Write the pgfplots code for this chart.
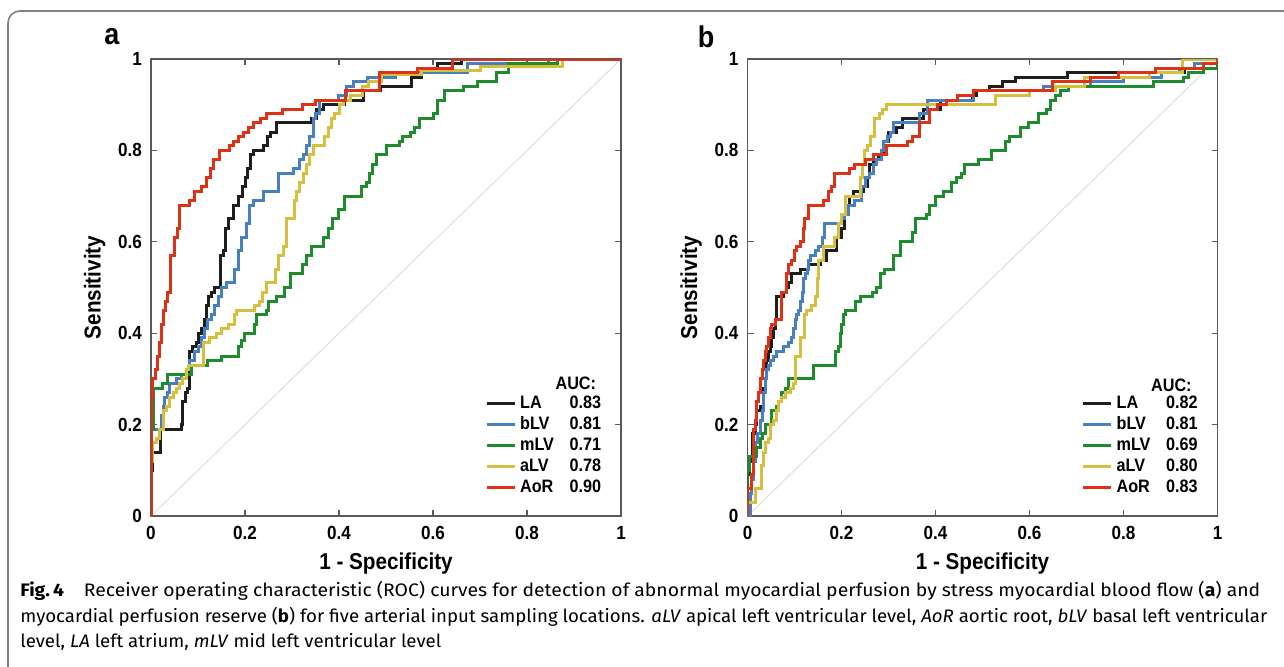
\documentclass[border=0pt]{standalone}
\usepackage{pgfplots}
\pgfplotsset{compat=1.18}
\usepackage{graphicx}
\usepackage{fontspec}
\newfontfamily\chartfont{Liberation Sans}[FakeStretch=0.9]
\newfontfamily\capfont{Fira Sans}[FakeStretch=1.07]

\definecolor{cLA}{RGB}{30,30,30}
\definecolor{cbLV}{RGB}{70,128,192}
\definecolor{cmLV}{RGB}{30,140,45}
\definecolor{caLV}{RGB}{214,190,62}
\definecolor{cAoR}{RGB}{222,50,22}

\pgfplotsset{
    roc/.style={
        scale only axis,
        width=235pt, height=228.5pt,
        xmin=0, xmax=1, ymin=0, ymax=1,
        xtick={0,0.2,0.4,0.6,0.8,1}, ytick={0,0.2,0.4,0.6,0.8,1},
        xticklabels={0,0.2,0.4,0.6,0.8,1}, yticklabels={0,0.2,0.4,0.6,0.8,1},
        tick align=inside, tick pos=both, major tick length=3pt,
        axis line style={draw=black!65, line width=0.6pt},
        every tick/.style={draw=black!65, line width=0.6pt},
        tick label style={font=\chartfont\bfseries\fontsize{9.5}{10}\selectfont},
        xticklabel style={yshift=-1.5pt},
        yticklabel style={xshift=-1pt},
        label style={font=\chartfont\bfseries\fontsize{11.5}{12}\selectfont},
        xlabel={1 - Specificity}, ylabel={Sensitivity},
        xlabel style={at={(axis description cs:0.5,-0.103)}, anchor=center},
        ylabel style={at={(axis description cs:-0.12,0.5)}, anchor=center},
        every axis plot/.append style={line width=1.5pt, mark=none},
        legend image code/.code={\draw[#1, line width=1.5pt] (0pt,0pt) -- (14pt,0pt);},
        legend cell align=left,
        legend style={at={(rel axis cs:0.71,0.038)}, anchor=south west,
            draw=none, fill=none, inner sep=0pt, row sep=0pt,
            font=\chartfont\bfseries\fontsize{9}{9}\selectfont,
            nodes={inner xsep=2pt, inner ysep=0pt, text height=6.5pt, text depth=1.5pt, minimum height=10.5pt}},
    },
}

\begin{document}
\begin{tikzpicture}[x=1pt,y=1pt]
\useasboundingbox (0,0) rectangle (642,333);
\draw[black!50, line width=0.8pt, rounded corners=6pt] (4,-2) -- (4,327.5) -- (645,327.5);

\node[font=\chartfont\bfseries\fontsize{15}{15}\selectfont] at (56,314.5) {a};
\node[font=\chartfont\bfseries\fontsize{15}{15}\selectfont] at (353,314.5) {b};

% panel a: stress myocardial blood flow
\begin{axis}[roc, at={(75.5pt,75pt)}, anchor=south west]
\addplot[draw=black!13, line width=0.5pt, forget plot] coordinates {(0,0)(1,1)};
\addplot[cLA] coordinates {(0,0)(0,0.10)(0.004,0.10)(0.004,0.14)(0.021,0.14)(0.021,0.19)(0.064,0.19)(0.064,0.20)(0.068,0.20)(0.068,0.25)(0.073,0.25)(0.073,0.27)(0.077,0.27)(0.077,0.28)(0.082,0.28)(0.082,0.36)(0.089,0.36)(0.089,0.37)(0.096,0.37)(0.096,0.38)(0.101,0.38)(0.101,0.40)(0.107,0.40)(0.107,0.41)(0.113,0.41)(0.113,0.43)(0.118,0.43)(0.118,0.46)(0.123,0.46)(0.123,0.48)(0.128,0.48)(0.128,0.49)(0.135,0.49)(0.135,0.50)(0.147,0.50)(0.147,0.57)(0.154,0.57)(0.154,0.58)(0.158,0.58)(0.158,0.63)(0.165,0.63)(0.165,0.65)(0.175,0.65)(0.175,0.68)(0.186,0.68)(0.186,0.70)(0.194,0.70)(0.194,0.72)(0.201,0.72)(0.201,0.74)(0.206,0.74)(0.206,0.76)(0.211,0.76)(0.211,0.79)(0.218,0.79)(0.218,0.80)(0.240,0.80)(0.240,0.81)(0.247,0.81)(0.247,0.83)(0.254,0.83)(0.254,0.84)(0.268,0.84)(0.268,0.86)(0.342,0.86)(0.342,0.87)(0.352,0.87)(0.352,0.89)(0.367,0.89)(0.367,0.90)(0.412,0.90)(0.412,0.91)(0.452,0.91)(0.452,0.93)(0.488,0.93)(0.488,0.94)(0.555,0.94)(0.555,0.96)(0.575,0.96)(0.575,0.97)(0.59,0.97)(0.59,0.98)(0.61,0.98)(0.61,0.99)(0.66,0.99)(0.66,1)(1,1)};
\addlegendentry{\makebox[24.5pt][l]{LA}\makebox[16pt][r]{0.83}}
\addplot[cbLV] coordinates {(0,0)(0,0.19)(0.023,0.19)(0.023,0.22)(0.026,0.22)(0.026,0.24)(0.029,0.24)(0.029,0.26)(0.035,0.26)(0.035,0.27)(0.039,0.27)(0.039,0.29)(0.054,0.29)(0.054,0.30)(0.065,0.30)(0.065,0.31)(0.075,0.31)(0.075,0.32)(0.082,0.32)(0.082,0.34)(0.093,0.34)(0.093,0.36)(0.100,0.36)(0.100,0.37)(0.107,0.37)(0.107,0.39)(0.114,0.39)(0.114,0.41)(0.121,0.41)(0.121,0.43)(0.128,0.43)(0.128,0.44)(0.135,0.44)(0.135,0.46)(0.143,0.46)(0.143,0.48)(0.149,0.48)(0.149,0.50)(0.160,0.50)(0.160,0.51)(0.177,0.51)(0.177,0.54)(0.186,0.54)(0.186,0.58)(0.193,0.58)(0.193,0.61)(0.204,0.61)(0.204,0.64)(0.21,0.64)(0.21,0.68)(0.218,0.68)(0.218,0.69)(0.239,0.69)(0.239,0.71)(0.271,0.71)(0.271,0.75)(0.303,0.75)(0.303,0.76)(0.317,0.76)(0.317,0.78)(0.324,0.78)(0.324,0.79)(0.331,0.79)(0.331,0.81)(0.338,0.81)(0.338,0.83)(0.345,0.83)(0.345,0.87)(0.349,0.87)(0.349,0.88)(0.359,0.88)(0.359,0.91)(0.398,0.91)(0.398,0.92)(0.415,0.92)(0.415,0.94)(0.43,0.94)(0.43,0.95)(0.46,0.95)(0.46,0.96)(0.52,0.96)(0.52,0.97)(0.674,0.97)(0.674,0.99)(0.845,0.99)(0.845,1)(1,1)};
\addlegendentry{\makebox[24.5pt][l]{bLV}\makebox[16pt][r]{0.81}}
\addplot[cmLV] coordinates {(0,0)(0,0.19)(0.006,0.19)(0.006,0.28)(0.025,0.28)(0.025,0.29)(0.036,0.29)(0.036,0.31)(0.086,0.31)(0.086,0.33)(0.121,0.33)(0.121,0.34)(0.149,0.34)(0.149,0.35)(0.187,0.35)(0.187,0.37)(0.192,0.37)(0.192,0.385)(0.199,0.385)(0.199,0.40)(0.22,0.40)(0.22,0.42)(0.225,0.42)(0.225,0.44)(0.245,0.44)(0.245,0.45)(0.25,0.45)(0.25,0.47)(0.267,0.47)(0.267,0.48)(0.284,0.48)(0.284,0.50)(0.296,0.50)(0.296,0.53)(0.322,0.53)(0.322,0.55)(0.331,0.55)(0.331,0.57)(0.341,0.57)(0.341,0.59)(0.368,0.59)(0.368,0.61)(0.377,0.61)(0.377,0.63)(0.387,0.63)(0.387,0.65)(0.398,0.65)(0.398,0.67)(0.412,0.67)(0.412,0.70)(0.447,0.70)(0.447,0.72)(0.458,0.72)(0.458,0.73)(0.465,0.73)(0.465,0.75)(0.472,0.75)(0.472,0.77)(0.479,0.77)(0.479,0.79)(0.5,0.79)(0.5,0.81)(0.529,0.81)(0.529,0.82)(0.536,0.82)(0.536,0.83)(0.553,0.83)(0.553,0.84)(0.56,0.84)(0.56,0.85)(0.571,0.85)(0.571,0.87)(0.60,0.87)(0.60,0.88)(0.61,0.88)(0.61,0.91)(0.625,0.91)(0.625,0.93)(0.665,0.93)(0.665,0.94)(0.695,0.94)(0.695,0.95)(0.735,0.95)(0.735,0.97)(0.76,0.97)(0.76,0.99)(0.865,0.99)(0.865,1)(1,1)};
\addlegendentry{\makebox[24.5pt][l]{mLV}\makebox[16pt][r]{0.71}}
\addplot[caLV] coordinates {(0,0)(0,0.12)(0.004,0.12)(0.004,0.16)(0.011,0.16)(0.011,0.17)(0.018,0.17)(0.018,0.19)(0.026,0.19)(0.026,0.23)(0.033,0.23)(0.033,0.24)(0.040,0.24)(0.040,0.26)(0.047,0.26)(0.047,0.27)(0.054,0.27)(0.054,0.28)(0.061,0.28)(0.061,0.29)(0.068,0.29)(0.068,0.30)(0.075,0.30)(0.075,0.32)(0.079,0.32)(0.079,0.33)(0.111,0.33)(0.111,0.38)(0.125,0.38)(0.125,0.39)(0.139,0.39)(0.139,0.40)(0.15,0.40)(0.15,0.41)(0.164,0.41)(0.164,0.42)(0.178,0.42)(0.178,0.44)(0.182,0.44)(0.182,0.45)(0.221,0.45)(0.221,0.46)(0.231,0.46)(0.231,0.47)(0.238,0.47)(0.238,0.49)(0.245,0.49)(0.245,0.51)(0.264,0.51)(0.264,0.54)(0.271,0.54)(0.271,0.57)(0.281,0.57)(0.281,0.59)(0.288,0.59)(0.288,0.65)(0.306,0.65)(0.306,0.69)(0.31,0.69)(0.31,0.71)(0.317,0.71)(0.317,0.73)(0.324,0.73)(0.324,0.75)(0.33,0.75)(0.33,0.77)(0.338,0.77)(0.338,0.79)(0.345,0.79)(0.345,0.81)(0.37,0.81)(0.37,0.83)(0.377,0.83)(0.377,0.85)(0.383,0.85)(0.383,0.87)(0.39,0.87)(0.39,0.88)(0.40,0.88)(0.40,0.90)(0.409,0.90)(0.409,0.91)(0.425,0.91)(0.425,0.92)(0.451,0.92)(0.451,0.94)(0.462,0.94)(0.462,0.95)(0.49,0.95)(0.49,0.965)(0.575,0.965)(0.575,0.975)(0.70,0.975)(0.70,0.983)(0.875,0.983)(0.875,1)(1,1)};
\addlegendentry{\makebox[24.5pt][l]{aLV}\makebox[16pt][r]{0.78}}
\addplot[cAoR] coordinates {(0,0)(0,0.26)(0.004,0.26)(0.004,0.30)(0.009,0.30)(0.009,0.32)(0.014,0.32)(0.014,0.35)(0.018,0.35)(0.018,0.38)(0.023,0.38)(0.023,0.42)(0.027,0.42)(0.027,0.45)(0.031,0.45)(0.031,0.47)(0.035,0.47)(0.035,0.49)(0.042,0.49)(0.042,0.57)(0.049,0.57)(0.049,0.61)(0.056,0.61)(0.056,0.63)(0.061,0.63)(0.061,0.68)(0.082,0.68)(0.082,0.69)(0.092,0.69)(0.092,0.71)(0.108,0.71)(0.108,0.72)(0.118,0.72)(0.118,0.74)(0.126,0.74)(0.126,0.76)(0.132,0.76)(0.132,0.78)(0.146,0.78)(0.146,0.80)(0.168,0.80)(0.168,0.81)(0.176,0.81)(0.176,0.82)(0.187,0.82)(0.187,0.83)(0.197,0.83)(0.197,0.84)(0.208,0.84)(0.208,0.85)(0.219,0.85)(0.219,0.86)(0.232,0.86)(0.232,0.87)(0.245,0.87)(0.245,0.88)(0.28,0.88)(0.28,0.89)(0.323,0.89)(0.323,0.90)(0.35,0.90)(0.35,0.91)(0.413,0.91)(0.413,0.93)(0.486,0.93)(0.486,0.97)(0.566,0.97)(0.566,0.98)(0.642,0.98)(0.642,1)(1,1)};
\addlegendentry{\makebox[24.5pt][l]{AoR}\makebox[16pt][r]{0.90}}
\node[anchor=east, font=\chartfont\bfseries\fontsize{9}{9}\selectfont] at (rel axis cs:0.962,0.291) {AUC:};
\end{axis}

% panel b: myocardial perfusion reserve
\begin{axis}[roc, at={(373.75pt,75pt)}, anchor=south west]
\addplot[draw=black!13, line width=0.5pt, forget plot] coordinates {(0,0)(1,1)};
\addplot[cLA] coordinates {(0,0)(0,0.09)(0.004,0.09)(0.004,0.12)(0.011,0.12)(0.011,0.18)(0.016,0.18)(0.016,0.20)(0.020,0.20)(0.020,0.23)(0.027,0.23)(0.027,0.24)(0.034,0.24)(0.034,0.28)(0.038,0.28)(0.038,0.30)(0.041,0.30)(0.041,0.34)(0.045,0.34)(0.045,0.36)(0.048,0.36)(0.048,0.37)(0.052,0.37)(0.052,0.39)(0.055,0.39)(0.055,0.41)(0.059,0.41)(0.059,0.43)(0.0625,0.43)(0.0625,0.48)(0.077,0.48)(0.077,0.49)(0.084,0.49)(0.084,0.50)(0.087,0.50)(0.087,0.51)(0.094,0.51)(0.094,0.53)(0.112,0.53)(0.112,0.54)(0.13,0.54)(0.13,0.55)(0.155,0.55)(0.155,0.56)(0.168,0.56)(0.168,0.58)(0.19,0.58)(0.19,0.61)(0.20,0.61)(0.20,0.63)(0.207,0.63)(0.207,0.66)(0.212,0.66)(0.212,0.68)(0.216,0.68)(0.216,0.70)(0.225,0.70)(0.225,0.71)(0.247,0.71)(0.247,0.72)(0.256,0.72)(0.256,0.74)(0.26,0.74)(0.26,0.77)(0.269,0.77)(0.269,0.78)(0.278,0.78)(0.278,0.79)(0.29,0.79)(0.29,0.82)(0.30,0.82)(0.30,0.84)(0.317,0.84)(0.317,0.85)(0.33,0.85)(0.33,0.87)(0.374,0.87)(0.374,0.89)(0.41,0.89)(0.41,0.91)(0.479,0.91)(0.479,0.92)(0.488,0.92)(0.488,0.93)(0.515,0.93)(0.515,0.94)(0.542,0.94)(0.542,0.95)(0.57,0.95)(0.57,0.96)(0.68,0.96)(0.68,0.97)(0.93,0.97)(0.93,0.98)(0.97,0.98)(0.97,0.99)(1,0.99)(1,1)};
\addlegendentry{\makebox[24.5pt][l]{LA}\makebox[16pt][r]{0.82}}
\addplot[cbLV] coordinates {(0,0)(0.006,0)(0.006,0.05)(0.009,0.05)(0.009,0.08)(0.013,0.08)(0.013,0.12)(0.016,0.12)(0.016,0.16)(0.022,0.16)(0.022,0.18)(0.027,0.18)(0.027,0.21)(0.031,0.21)(0.031,0.23)(0.034,0.23)(0.034,0.27)(0.038,0.27)(0.038,0.30)(0.041,0.30)(0.041,0.32)(0.045,0.32)(0.045,0.33)(0.048,0.33)(0.048,0.34)(0.055,0.34)(0.055,0.35)(0.0625,0.35)(0.0625,0.36)(0.077,0.36)(0.077,0.37)(0.087,0.37)(0.087,0.38)(0.094,0.38)(0.094,0.39)(0.098,0.39)(0.098,0.41)(0.1015,0.41)(0.1015,0.43)(0.105,0.43)(0.105,0.44)(0.109,0.44)(0.109,0.45)(0.112,0.45)(0.112,0.47)(0.116,0.47)(0.116,0.49)(0.119,0.49)(0.119,0.52)(0.123,0.52)(0.123,0.53)(0.127,0.53)(0.127,0.54)(0.13,0.54)(0.13,0.56)(0.134,0.56)(0.134,0.57)(0.145,0.57)(0.145,0.58)(0.152,0.58)(0.152,0.59)(0.159,0.59)(0.159,0.61)(0.163,0.61)(0.163,0.64)(0.2,0.64)(0.2,0.65)(0.207,0.65)(0.207,0.66)(0.214,0.66)(0.214,0.68)(0.228,0.68)(0.228,0.69)(0.242,0.69)(0.242,0.72)(0.25,0.72)(0.25,0.74)(0.26,0.74)(0.26,0.75)(0.267,0.75)(0.267,0.77)(0.275,0.77)(0.275,0.78)(0.285,0.78)(0.285,0.80)(0.29,0.80)(0.29,0.82)(0.297,0.82)(0.297,0.83)(0.305,0.83)(0.305,0.84)(0.31,0.84)(0.31,0.86)(0.366,0.86)(0.366,0.88)(0.383,0.88)(0.383,0.91)(0.48,0.91)(0.48,0.93)(0.63,0.93)(0.63,0.94)(0.73,0.94)(0.73,0.95)(0.80,0.95)(0.80,0.96)(0.88,0.96)(0.88,0.97)(0.92,0.97)(0.92,0.98)(0.95,0.98)(0.95,0.99)(1,0.99)(1,1)};
\addlegendentry{\makebox[24.5pt][l]{bLV}\makebox[16pt][r]{0.81}}
\addplot[cmLV] coordinates {(0,0)(0,0.10)(0.005,0.10)(0.005,0.13)(0.02,0.13)(0.02,0.15)(0.027,0.15)(0.027,0.17)(0.031,0.17)(0.031,0.18)(0.038,0.18)(0.038,0.20)(0.052,0.20)(0.052,0.23)(0.062,0.23)(0.062,0.24)(0.066,0.24)(0.066,0.25)(0.073,0.25)(0.073,0.27)(0.08,0.27)(0.08,0.28)(0.087,0.28)(0.087,0.30)(0.14,0.30)(0.14,0.33)(0.187,0.33)(0.187,0.36)(0.194,0.36)(0.194,0.37)(0.197,0.37)(0.197,0.40)(0.201,0.40)(0.201,0.42)(0.204,0.42)(0.204,0.44)(0.208,0.44)(0.208,0.45)(0.229,0.45)(0.229,0.47)(0.24,0.47)(0.24,0.48)(0.265,0.48)(0.265,0.49)(0.275,0.49)(0.275,0.50)(0.282,0.50)(0.282,0.53)(0.292,0.53)(0.292,0.54)(0.31,0.54)(0.31,0.57)(0.325,0.57)(0.325,0.60)(0.35,0.60)(0.35,0.62)(0.358,0.62)(0.358,0.65)(0.38,0.65)(0.38,0.66)(0.388,0.66)(0.388,0.68)(0.40,0.68)(0.40,0.70)(0.418,0.70)(0.418,0.71)(0.435,0.71)(0.435,0.73)(0.444,0.73)(0.444,0.74)(0.455,0.74)(0.455,0.75)(0.462,0.75)(0.462,0.77)(0.492,0.77)(0.492,0.78)(0.52,0.78)(0.52,0.80)(0.548,0.80)(0.548,0.82)(0.558,0.82)(0.558,0.83)(0.58,0.83)(0.58,0.85)(0.598,0.85)(0.598,0.86)(0.619,0.86)(0.619,0.88)(0.637,0.88)(0.637,0.89)(0.645,0.89)(0.645,0.91)(0.655,0.91)(0.655,0.92)(0.665,0.92)(0.665,0.93)(0.683,0.93)(0.683,0.94)(0.864,0.94)(0.864,0.95)(0.928,0.95)(0.928,0.96)(0.938,0.96)(0.938,0.97)(0.97,0.97)(0.97,0.98)(1,0.98)(1,1)};
\addlegendentry{\makebox[24.5pt][l]{mLV}\makebox[16pt][r]{0.69}}
\addplot[caLV] coordinates {(0,0)(0,0.03)(0.016,0.03)(0.016,0.06)(0.029,0.06)(0.029,0.11)(0.034,0.11)(0.034,0.14)(0.038,0.14)(0.038,0.16)(0.045,0.16)(0.045,0.17)(0.048,0.17)(0.048,0.20)(0.055,0.20)(0.055,0.21)(0.062,0.21)(0.062,0.23)(0.066,0.23)(0.066,0.25)(0.073,0.25)(0.073,0.26)(0.08,0.26)(0.08,0.27)(0.091,0.27)(0.091,0.28)(0.098,0.28)(0.098,0.29)(0.103,0.29)(0.103,0.35)(0.112,0.35)(0.112,0.39)(0.122,0.39)(0.122,0.44)(0.126,0.44)(0.126,0.45)(0.137,0.45)(0.137,0.46)(0.144,0.46)(0.144,0.48)(0.148,0.48)(0.148,0.52)(0.152,0.52)(0.152,0.56)(0.161,0.56)(0.161,0.59)(0.186,0.59)(0.186,0.61)(0.194,0.61)(0.194,0.64)(0.20,0.64)(0.20,0.66)(0.208,0.66)(0.208,0.70)(0.24,0.70)(0.24,0.74)(0.244,0.74)(0.244,0.77)(0.248,0.77)(0.248,0.80)(0.255,0.80)(0.255,0.81)(0.262,0.81)(0.262,0.83)(0.27,0.83)(0.27,0.87)(0.28,0.87)(0.28,0.88)(0.288,0.88)(0.288,0.89)(0.295,0.89)(0.295,0.90)(0.527,0.90)(0.527,0.92)(0.60,0.92)(0.60,0.93)(0.656,0.93)(0.656,0.94)(0.716,0.94)(0.716,0.96)(0.855,0.96)(0.855,0.97)(0.925,0.97)(0.925,1)(1,1)};
\addlegendentry{\makebox[24.5pt][l]{aLV}\makebox[16pt][r]{0.80}}
\addplot[cAoR] coordinates {(0,0)(0,0.06)(0.009,0.06)(0.009,0.09)(0.013,0.09)(0.013,0.19)(0.016,0.19)(0.016,0.21)(0.020,0.21)(0.020,0.25)(0.024,0.25)(0.024,0.27)(0.027,0.27)(0.027,0.30)(0.031,0.30)(0.031,0.32)(0.034,0.32)(0.034,0.34)(0.038,0.34)(0.038,0.36)(0.041,0.36)(0.041,0.37)(0.045,0.37)(0.045,0.39)(0.048,0.39)(0.048,0.41)(0.052,0.41)(0.052,0.42)(0.059,0.42)(0.059,0.43)(0.072,0.43)(0.072,0.49)(0.082,0.49)(0.082,0.53)(0.087,0.53)(0.087,0.55)(0.094,0.55)(0.094,0.56)(0.101,0.56)(0.101,0.58)(0.105,0.58)(0.105,0.59)(0.112,0.59)(0.112,0.60)(0.119,0.60)(0.119,0.63)(0.122,0.63)(0.122,0.65)(0.129,0.65)(0.129,0.68)(0.161,0.68)(0.161,0.69)(0.172,0.69)(0.172,0.71)(0.179,0.71)(0.179,0.72)(0.186,0.72)(0.186,0.75)(0.218,0.75)(0.218,0.76)(0.228,0.76)(0.228,0.77)(0.25,0.77)(0.25,0.78)(0.267,0.78)(0.267,0.79)(0.296,0.79)(0.296,0.81)(0.341,0.81)(0.341,0.82)(0.352,0.82)(0.352,0.83)(0.366,0.83)(0.366,0.86)(0.387,0.86)(0.387,0.89)(0.405,0.89)(0.405,0.90)(0.423,0.90)(0.423,0.91)(0.447,0.91)(0.447,0.92)(0.48,0.92)(0.48,0.93)(0.648,0.93)(0.648,0.95)(0.729,0.95)(0.729,0.96)(0.789,0.96)(0.789,0.97)(0.867,0.97)(0.867,0.98)(0.97,0.98)(0.97,0.99)(1,0.99)(1,1)};
\addlegendentry{\makebox[24.5pt][l]{AoR}\makebox[16pt][r]{0.83}}
\node[anchor=east, font=\chartfont\bfseries\fontsize{9}{9}\selectfont] at (rel axis cs:0.96,0.287) {AUC:};
\end{axis}

% caption
\node[anchor=west, inner sep=0pt, font=\capfont\fontsize{9.05}{11}\selectfont] at (10,37.5) {\textbf{Fig.\,4}\hspace{1.1em}Receiver operating characteristic (ROC) curves for detection of abnormal myocardial perfusion by stress myocardial blood flow (\textbf{a}) and};
\node[anchor=west, inner sep=0pt, font=\capfont\fontsize{9.05}{11}\selectfont] at (10,24.5) {\scalebox{0.963}[1]{myocardial perfusion reserve (\textbf{b}) for five arterial input sampling locations. \textit{aLV} apical left ventricular level, \textit{AoR} aortic root, \textit{bLV} basal left ventricular}};
\node[anchor=west, inner sep=0pt, font=\capfont\fontsize{9.05}{11}\selectfont] at (10,12) {\scalebox{0.963}[1]{level, \textit{LA} left atrium, \textit{mLV} mid left ventricular level}};
\end{tikzpicture}
\end{document}
